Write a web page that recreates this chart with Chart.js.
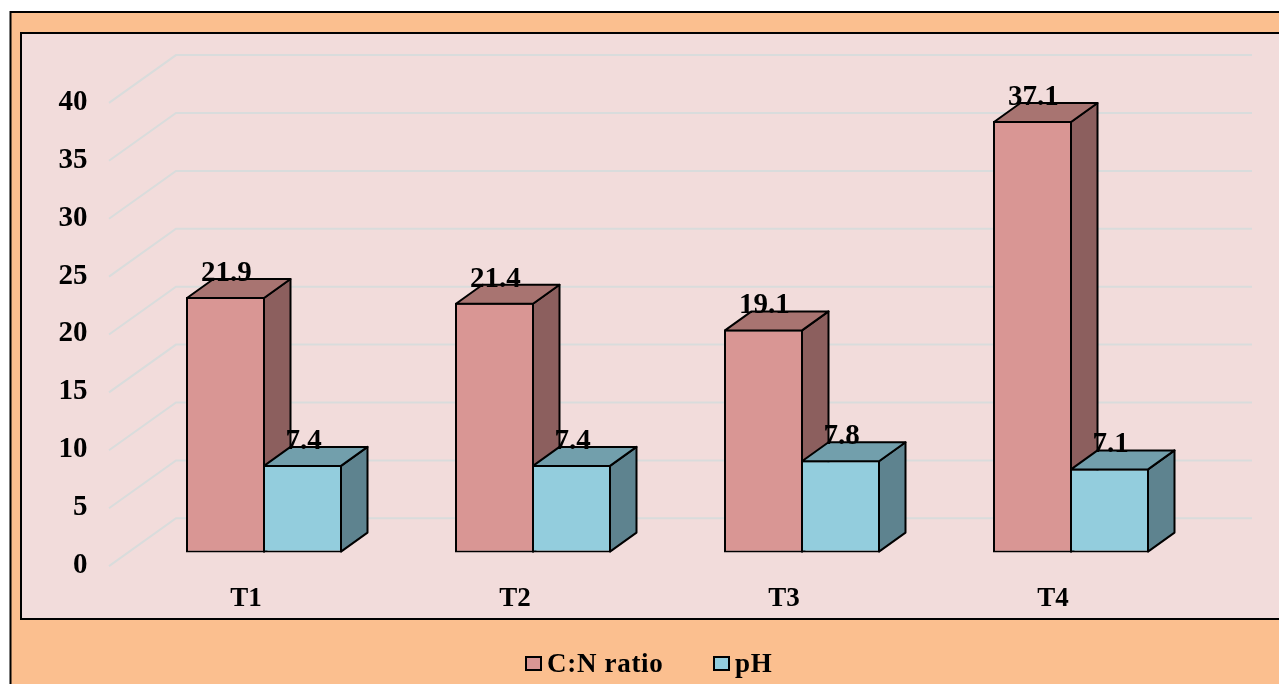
<!DOCTYPE html>
<html>
<head>
<meta charset="utf-8">
<title>C:N ratio and pH</title>
<script src="https://cdn.jsdelivr.net/npm/chart.js@4/dist/chart.umd.min.js"></script>
<style>
    html, body { margin: 0; padding: 0; background: #ffffff; overflow: hidden; }
    canvas { display: block; }
</style>
</head>
<body>
<canvas id="chart" width="1279" height="684"></canvas>
<script>
const categories = ['T1', 'T2', 'T3', 'T4'];
const cnRatio = [21.9, 21.4, 19.1, 37.1];
const ph = [7.4, 7.4, 7.8, 7.1];
const yTicks = [0, 5, 10, 15, 20, 25, 30, 35, 40];

const serif = '"Liberation Serif", serif';
const depth = { x: 26.5, y: -19 };

// frames behind the chart
const framePlugin = {
    id: 'frames',
    beforeDraw(chart) {
        const ctx = chart.ctx;
        ctx.save();
        ctx.lineWidth = 2;
        ctx.strokeStyle = '#000000';
        ctx.fillStyle = '#fbbf8f';
        ctx.fillRect(10.5, 12, 1280, 680);
        ctx.strokeRect(10.5, 12, 1280, 680);
        ctx.fillStyle = '#f2dcdb';
        ctx.fillRect(21, 33, 1270, 586);
        ctx.strokeRect(21, 33, 1270, 586);
        ctx.restore();
    }
};

// floor-to-wall grid lines
const wallPlugin = {
    id: 'wall',
    beforeDatasetsDraw(chart) {
        const ctx = chart.ctx;
        const y = chart.scales.y;
        ctx.save();
        ctx.lineWidth = 2;
        ctx.strokeStyle = '#d9dcdc';
        yTicks.forEach((t) => {
            const py = y.getPixelForValue(t);
            ctx.beginPath();
            ctx.moveTo(109, py + 15.5);
            ctx.lineTo(176, py - 32.3);
            ctx.lineTo(1252, py - 32.3);
            ctx.stroke();
        });
        ctx.restore();
    }
};

function poly(ctx, pts, fill) {
    ctx.beginPath();
    ctx.moveTo(pts[0][0], pts[0][1]);
    pts.slice(1).forEach((p) => ctx.lineTo(p[0], p[1]));
    ctx.closePath();
    ctx.fillStyle = fill;
    ctx.fill();
    ctx.stroke();
}

function drawFaces(chart, index) {
    const ctx = chart.ctx;
    const ds = chart.data.datasets[index];
    ctx.save();
    ctx.lineWidth = 2;
    ctx.lineJoin = 'round';
    ctx.strokeStyle = '#000000';
    chart.getDatasetMeta(index).data.forEach((bar) => {
        const l = bar.x - bar.width / 2 + 1;
        const r = bar.x + bar.width / 2 - 1;
        const t = bar.y + 1;
        const b = bar.base - 1;
        poly(ctx, [[r, t], [r + depth.x, t + depth.y], [r + depth.x, b + depth.y], [r, b]], ds.sideColor);
        poly(ctx, [[l, t], [l + depth.x, t + depth.y], [r + depth.x, t + depth.y], [r, t]], ds.topColor);
    });
    ctx.restore();
}

// top and side faces of each bar; pH has to land over the C:N side face, so it is held back and drawn last
const cubePlugin = {
    id: 'cube',
    beforeDatasetDraw(chart, args) {
        if (args.index === 1) {
            return false;
        }
    },
    afterDatasetsDraw(chart) {
        const ctx = chart.ctx;
        drawFaces(chart, 0);
        chart.getDatasetMeta(1).controller.draw();
        drawFaces(chart, 1);

        ctx.save();
        ctx.font = 'bold 29px ' + serif;
        ctx.fillStyle = '#000000';
        ctx.textAlign = 'center';
        ctx.textBaseline = 'middle';
        chart.data.datasets.forEach((ds, i) => {
            chart.getDatasetMeta(i).data.forEach((bar, j) => {
                ctx.fillText(ds.data[j].toFixed(1), bar.x + 1, bar.y - 23.5);
            });
        });
        ctx.restore();
    }
};

// legend sits on the orange band, gap between box and text is tighter than the built-in one
const legendPlugin = {
    id: 'keys',
    afterDraw(chart) {
        const ctx = chart.ctx;
        const starts = [526, 714];
        ctx.save();
        ctx.font = 'bold 27px ' + serif;
        ctx.letterSpacing = '0.7px';
        ctx.textBaseline = 'middle';
        ctx.textAlign = 'left';
        chart.data.datasets.forEach((ds, i) => {
            ctx.fillStyle = ds.backgroundColor;
            ctx.strokeStyle = '#000000';
            ctx.lineWidth = 2;
            ctx.fillRect(starts[i], 657, 15, 13);
            ctx.strokeRect(starts[i], 657, 15, 13);
            ctx.fillStyle = '#000000';
            ctx.fillText(ds.label, starts[i] + 21, 665);
        });
        ctx.restore();
    }
};

new Chart(document.getElementById('chart').getContext('2d'), {
    type: 'bar',
    data: {
        labels: categories,
        datasets: [{
            label: 'C:N ratio',
            data: cnRatio,
            backgroundColor: '#d99694',
            sideColor: '#8c5f5e',
            topColor: '#a87471',
            borderColor: '#000000',
            borderWidth: 2,
            borderSkipped: false,
            base: -0.17,
            clip: false,
            categoryPercentage: 0.5725,
            barPercentage: 1.026
        }, {
            label: 'pH',
            data: ph,
            backgroundColor: '#93cddd',
            sideColor: '#5e838f',
            topColor: '#729fac',
            borderColor: '#000000',
            borderWidth: 2,
            borderSkipped: false,
            base: -0.17,
            clip: false,
            categoryPercentage: 0.5725,
            barPercentage: 1.026
        }]
    },
    options: {
        responsive: false,
        animation: false,
        layout: { padding: { left: 0, right: 73.5, top: 87.4, bottom: 53.4 } },
        plugins: {
            legend: { display: false },
            tooltip: { enabled: false }
        },
        scales: {
            x: {
                grid: { display: false, drawTicks: false },
                border: { display: false },
                afterFit: (scale) => { scale.height = 80; },
                ticks: {
                    color: '#000000',
                    font: { family: serif, size: 27, weight: 'bold' },
                    labelOffset: -18,
                    padding: 32
                }
            },
            y: {
                min: 0,
                max: 40,
                grid: { display: false, drawTicks: false },
                border: { display: false },
                afterFit: (scale) => { scale.width = 129.5; },
                afterBuildTicks: (scale) => { scale.ticks = yTicks.map((v) => ({ value: v })); },
                ticks: {
                    color: '#000000',
                    font: { family: serif, size: 29, weight: 'bold' },
                    labelOffset: 15,
                    padding: 42
                }
            }
        }
    },
    plugins: [framePlugin, wallPlugin, cubePlugin, legendPlugin]
});
</script>
</body>
</html>
